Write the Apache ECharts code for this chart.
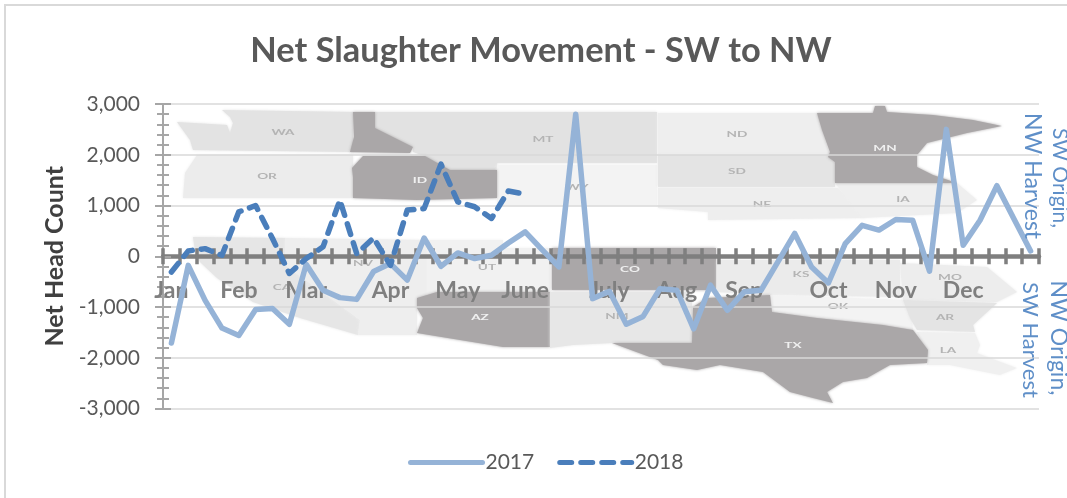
<!DOCTYPE html>
<html>
<head>
<meta charset="utf-8">
<style>html,body{margin:0;padding:0;background:#fff;overflow:hidden}#c{width:1067px;height:498px;filter:blur(0.5px)}</style>
<script src="https://cdn.jsdelivr.net/npm/echarts@6/dist/echarts.min.js"></script>
</head>
<body>
<div id="c"></div>
<script>
// ---- chart data (one entry per week of the year) ----
const weekLabels = ['Jan','','','','Feb','','','','Mar','','','','','Apr','','','','May','','','','June','','','','','July','','','','Aug','','','','Sep','','','','','Oct','','','','Nov','','','','Dec','','','',''];
const values2017 = [-1710,-180,-870,-1415,-1560,-1050,-1030,-1340,-160,-670,-815,-850,-300,-145,-470,360,-200,65,-45,20,260,480,130,-210,2800,-835,-690,-1340,-1185,-640,-670,-1430,-570,-1065,-700,-670,-110,450,-210,-525,250,610,515,725,710,-295,2500,215,710,1390,745,105];
const values2018 = [-310,105,150,20,875,1000,350,-340,-45,185,1105,50,360,-180,910,940,1815,1070,975,745,1285,1225];
const titleText = 'Net Slaughter Movement - SW to NW';
const yAxisTitle = 'Net Head Count';
const seriesNames = ['2017','2018'];

// ---- decorative backdrop: the blurred US-states map behind the plot ----
const DARK = '#aaa7a8';
const mapStates = [
  ['#e3e3e3',[[222,110],[353,112],[353,152],[193,150],[190,140],[177,122],[227,125],[230,133],[233,123],[230,117]]],
  ['#ececec',[[197,155],[353,155],[353,198],[183,198],[185,173]]],
  ['#e2e2e2',[[375,112],[657,112],[657,163],[497,163],[497,170],[450,170],[425,156],[413,152],[413,147],[375,128]]],
  ['#f3f3f3',[[497,165],[657,165],[657,205],[497,205]]],
  [DARK,[[353,112],[375,112],[375,128],[413,147],[410,153],[350,152],[354,137]]],
  [DARK,[[363,156],[425,156],[450,170],[497,170],[497,198],[417,200],[353,198],[353,177],[352,168]]],
  ['#eeeeee',[[658,113],[817,113],[822,130],[830,155],[658,155]]],
  ['#e4e4e4',[[658,155],[835,155],[835,187],[658,187]]],
  ['#eeeeee',[[658,188],[838,188],[855,205],[865,218],[708,220],[708,212],[658,208]]],
  ['#efefef',[[835,183],[957,183],[977,200],[957,213],[862,218]]],
  [DARK,[[817,113],[873,113],[875,106],[885,106],[887,112],[933,115],[973,120],[1002,126],[967,133],[927,143],[917,155],[917,167],[933,175],[957,183],[835,183],[835,162],[828,157],[830,152],[822,130]]],
  ['#e6e6e6',[[193,237],[285,238],[285,265],[360,320],[358,335],[300,318],[253,302],[217,278],[200,262],[195,250]]],
  ['#eeeeee',[[285,238],[427,240],[427,298],[417,298],[417,335],[358,335],[360,320],[285,265]]],
  ['#f1f1f1',[[427,240],[503,240],[503,248],[550,248],[550,292],[437,292],[427,298]]],
  [DARK,[[417,298],[437,292],[550,292],[550,347],[503,347],[417,333],[423,318],[417,308]]],
  [DARK,[[552,248],[716,248],[716,290],[552,290]]],
  ['#e7e7e7',[[550,292],[692,292],[692,343],[612,343],[573,345],[550,348]]],
  ['#ebebeb',[[717,260],[900,260],[900,297],[772,295],[717,292]]],
  ['#f3f3f3',[[772,295],[910,300],[913,330],[883,325],[817,318],[773,312]]],
  ['#ededed',[[900,263],[987,267],[1017,292],[997,302],[903,300]]],
  ['#e4e4e4',[[903,300],[997,303],[973,325],[975,332],[917,330],[910,318]]],
  ['#f0f0f0',[[917,332],[975,333],[980,345],[977,353],[1017,368],[1000,375],[950,365],[927,365],[927,355]]],
  [DARK,[[693,307],[707,298],[770,295],[772,312],[817,318],[883,325],[913,330],[928,350],[927,363],[890,365],[867,378],[843,382],[827,392],[833,403],[813,398],[790,392],[763,372],[720,365],[697,370],[663,365],[658,360],[612,343],[692,343]]]
];
const GREY_LABEL = '#b4b4b4', WHITE_LABEL = '#f0f0f0';
const stateLabels = [
  ['WA',283,132,GREY_LABEL],['OR',267,176,GREY_LABEL],['ID',420,180,WHITE_LABEL],['MT',543,139,GREY_LABEL],
  ['ND',737,134,GREY_LABEL],['SD',737,171,GREY_LABEL],['NE',762,204,GREY_LABEL],['MN',885,148,WHITE_LABEL],
  ['IA',903,199,GREY_LABEL],['WY',577,187,GREY_LABEL],['CO',630,269,WHITE_LABEL],['KS',801,274,GREY_LABEL],
  ['MO',950,277,GREY_LABEL],['OK',838,306,GREY_LABEL],['AR',945,317,GREY_LABEL],['LA',948,350,GREY_LABEL],
  ['TX',793,345,WHITE_LABEL],['NM',617,316,GREY_LABEL],['AZ',480,317,WHITE_LABEL],['UT',487,267,GREY_LABEL],
  ['NV',363,263,GREY_LABEL],['CA',282,287,GREY_LABEL]
];
// rotated side captions
const sideCaptions = [
  ['SW Origin,',1060,178,21],['NW Harvest',1032,176,23],['SW Harvest',1030,340,22],['NW Origin,',1058,338,23]
];

const FONT = 'Lato, "Open Sans", sans-serif';
const graphics = [];
mapStates.forEach(([color,pts]) => graphics.push({
  type:'polygon', z:-10, silent:true, shape:{points:pts},
  style:{fill:color, shadowBlur:3, shadowColor:color}
}));
stateLabels.forEach(([t,x,y,color]) => graphics.push({
  type:'text', z:-9, silent:true, x, y, scaleX:1.7,
  style:{text:t, fill:color, font:'bold 8px '+FONT, textAlign:'center', textVerticalAlign:'middle'}
}));
sideCaptions.forEach(([t,x,y,size]) => graphics.push({
  type:'text', z:5, silent:true, x, y, rotation:-Math.PI/2,
  style:{text:t, fill:'#5f8fc8', font:size+'px '+FONT, textAlign:'center', textVerticalAlign:'middle'}
}));
graphics.push({type:'polyline', z:-10, silent:true, shape:{points:[[5,498],[5,5],[1067,5]]},
  style:{stroke:'#d9d9d9', lineWidth:2, fill:null}});

const tickStyle = {color:'#7f7f7f', width:3.5};
const yTick = {color:'#a6a6a6', width:2};
const chart = echarts.init(document.getElementById('c'), null, {renderer:'canvas'});
chart.setOption({
  animation:false,
  backgroundColor:'#fff',
  title:{text:titleText, left:536, top:29, textAlign:'center',
    textStyle:{fontFamily:FONT, fontSize:34.4, fontWeight:'bold', color:'#595959'}},
  legend:{left:403, top:447, itemWidth:72, itemHeight:14, itemGap:23,
    data:[
      {name:seriesNames[0], itemStyle:{opacity:0}, lineStyle:{width:5, cap:'round', color:'#95b3d7'}},
      {name:seriesNames[1], itemStyle:{opacity:0}, lineStyle:{width:5, cap:'round', type:[12,9], color:'#4a7ebb'}}
    ],
    textStyle:{fontFamily:FONT, fontSize:21, color:'#595959', padding:[0,0,0,-2]}},
  grid:{left:163, right:28, top:104, height:304.5, containLabel:false},
  xAxis:[
    {type:'category', data:weekLabels, boundaryGap:true, position:'bottom',
     axisLine:{onZero:true, lineStyle:{color:'#7f7f7f', width:4.5}},
     axisTick:{show:true, length:8, lineStyle:tickStyle, interval:0},
     axisLabel:{interval:0, margin:-129, color:'#7f7f7f', fontFamily:FONT, fontSize:23, fontWeight:'bold', hideOverlap:false},
     splitLine:{show:false}},
    {type:'category', data:weekLabels, boundaryGap:true, position:'top',
     axisLine:{show:false, onZero:true},
     axisTick:{show:true, length:8, lineStyle:tickStyle, interval:0},
     axisLabel:{show:false}, splitLine:{show:false}}
  ],
  yAxis:[
    {type:'value', min:-3000, max:3000, interval:1000, position:'left',
     name:yAxisTitle, nameLocation:'middle', nameGap:95, nameRotate:90,
     nameTextStyle:{fontFamily:FONT, fontSize:25, fontWeight:'bold', color:'#404040'},
     axisLine:{show:true, onZero:false, lineStyle:{color:'#a6a6a6', width:2}},
     axisTick:{show:true, length:8, lineStyle:yTick},
     minorTick:{show:true, splitNumber:5, length:6, lineStyle:yTick},
     minorSplitLine:{show:false},
     splitLine:{show:true, lineStyle:{color:'#d9d9d9', width:1.5}},
     axisLabel:{margin:23, color:'#595959', fontFamily:FONT, fontSize:21,
       formatter:v => v.toLocaleString('en-US')}},
    {type:'value', min:-3000, max:3000, interval:1000, position:'left',
     axisLine:{show:false, onZero:false},
     axisTick:{show:true, inside:true, length:8, lineStyle:yTick},
     minorTick:{show:true, splitNumber:5, length:6, lineStyle:yTick},
     splitLine:{show:false}, axisLabel:{show:false}}
  ],
  series:[
    {name:seriesNames[0], type:'line', data:values2017, symbol:'none', z:3,
     lineStyle:{color:'#95b3d7', width:5.5, cap:'round', join:'round'}, itemStyle:{color:'#95b3d7'}},
    {name:seriesNames[1], type:'line', data:values2018, symbol:'none', z:4,
     lineStyle:{color:'#4a7ebb', width:5.5, type:[11,9], cap:'round', join:'round'}, itemStyle:{color:'#4a7ebb'}}
  ],
  graphic:{elements:graphics}
});
</script>
</body>
</html>
